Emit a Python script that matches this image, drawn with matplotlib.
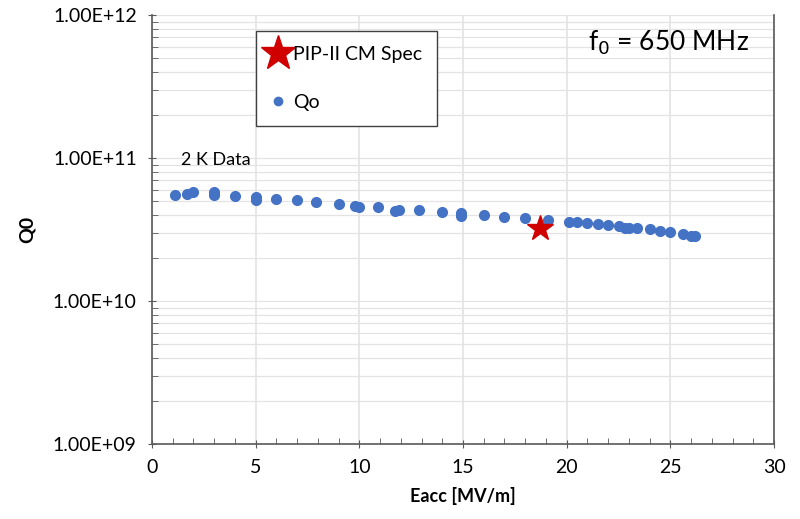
import matplotlib.pyplot as plt
from matplotlib.lines import Line2D
from matplotlib.ticker import FuncFormatter, LogLocator, MultipleLocator

plt.rcParams["font.family"] = ["Lato", "DejaVu Sans"]

# 2 K vertical test data
eacc = [1.1, 1.7, 2.0, 3.0, 3.0, 4.0, 5.0, 5.0, 6.0, 7.0, 7.9, 9.0, 9.8, 10.0,
        10.9, 11.7, 11.9, 12.9, 14.0, 14.9, 14.9, 16.0, 17.0, 18.0, 19.1, 20.1,
        20.5, 21.0, 21.5, 22.0, 22.5, 22.8, 23.0, 23.4, 24.0, 24.5, 25.0, 25.6,
        26.0, 26.2]
q0 = [5.51e10, 5.60e10, 5.75e10, 5.77e10, 5.51e10, 5.42e10, 5.31e10, 5.08e10,
      5.17e10, 5.08e10, 4.95e10, 4.77e10, 4.60e10, 4.57e10, 4.57e10, 4.28e10,
      4.33e10, 4.33e10, 4.21e10, 4.10e10, 3.95e10, 3.99e10, 3.89e10, 3.79e10,
      3.68e10, 3.59e10, 3.55e10, 3.49e10, 3.46e10, 3.40e10, 3.35e10, 3.25e10,
      3.22e10, 3.22e10, 3.17e10, 3.10e10, 3.02e10, 2.94e10, 2.86e10, 2.86e10]

spec_eacc = [18.7]
spec_q0 = [3.22e10]

blue = "#4472C4"
red = "#D00000"
grid_col = "#E3E3E3"
spine_col = "#595959"

fig = plt.figure(figsize=(8.0, 5.19), dpi=100)
ax = fig.add_axes([0.19, 0.1445, 0.7775, 0.8266])

ax.set_yscale("log")
ax.set_xlim(0, 30)
ax.set_ylim(1e9, 1e12)

ax.plot(eacc, q0, "o", color=blue, ms=7, mec=blue, zorder=3)
ax.plot(spec_eacc, spec_q0, "*", color=red, ms=19, mec=red, zorder=4)

ax.xaxis.set_major_locator(MultipleLocator(5))
ax.xaxis.set_minor_locator(MultipleLocator(1))
ax.yaxis.set_major_locator(LogLocator(base=10))
ax.yaxis.set_minor_locator(LogLocator(base=10, subs=range(2, 10)))
ax.yaxis.set_major_formatter(FuncFormatter(lambda v, p: f"{v:.2E}"))

ax.grid(True, which="major", axis="x", color=grid_col, lw=1.2)
ax.grid(True, which="both", axis="y", color=grid_col, lw=0.9)
ax.set_axisbelow(True)

for s in ax.spines.values():
    s.set_color(spine_col)
    s.set_linewidth(1.2)
ax.spines["top"].set_visible(False)

ax.tick_params(axis="both", which="major", direction="inout", length=6,
               color=spine_col, labelsize=14, pad=8)
ax.tick_params(axis="both", which="minor", direction="in", length=4,
               color=spine_col)
ax.tick_params(axis="y", which="both", right=False)

ax.set_xlabel("Eacc [MV/m]", fontsize=13, fontweight="bold", labelpad=8)
ax.set_ylabel("Q0", fontsize=14, fontweight="bold", labelpad=12)

ax.text(1.4, 9.7e10, "2 K Data", fontsize=13, va="center")
ax.text(0.96, 0.935, r"f$_0$ = 650 MHz", transform=ax.transAxes,
        fontsize=19, ha="right", va="center")

handles = [
    Line2D([], [], ls="none", marker="*", ms=26, color=red, mec=red),
    Line2D([], [], ls="none", marker="o", ms=6, color=blue, mec=blue),
]
leg = ax.legend(handles, ["PIP-II CM Spec", "Qo"], loc="upper left",
                bbox_to_anchor=(0.167, 0.962), borderaxespad=0, fontsize=14,
                frameon=True, fancybox=False, labelspacing=1.6,
                handlelength=0.8, handletextpad=0.35, borderpad=0.75)
leg.get_frame().set_edgecolor("#404040")
leg.get_frame().set_linewidth(1.0)
leg.get_frame().set_alpha(1)

fig.savefig("out.png", dpi=100)
